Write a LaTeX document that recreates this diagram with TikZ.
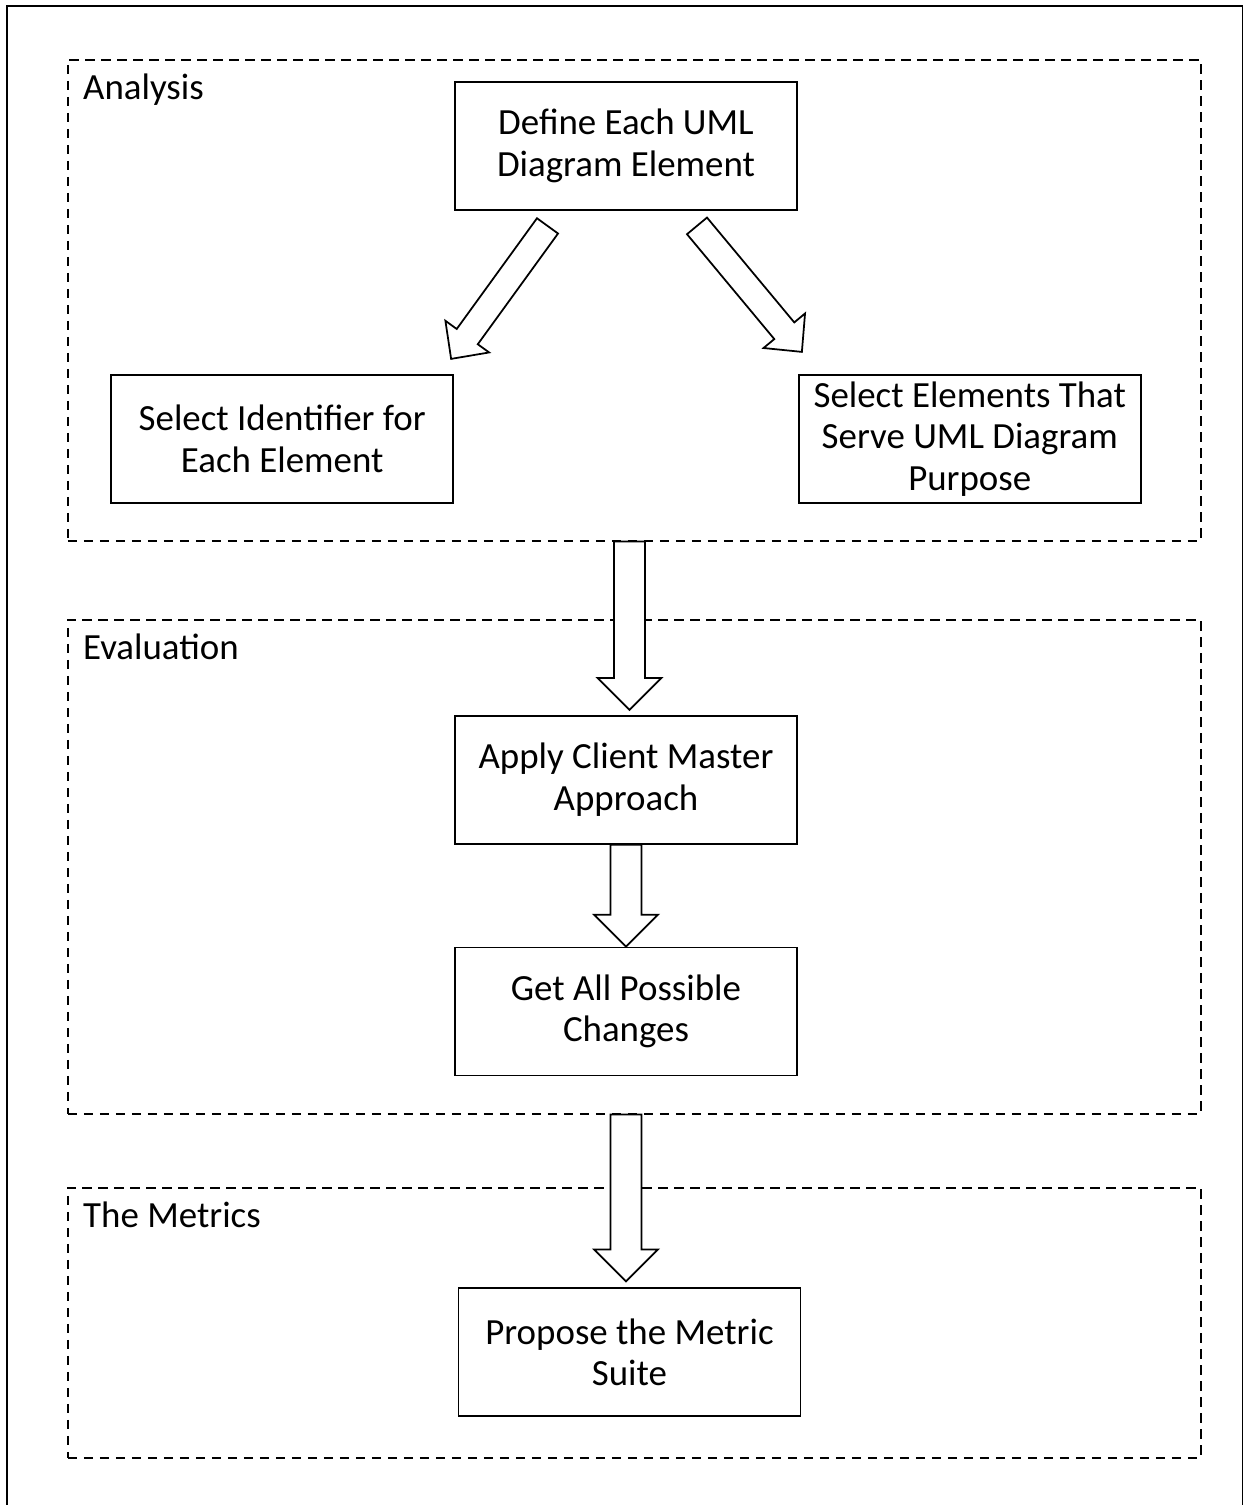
\documentclass[tikz,border=0pt]{standalone}
\usepackage{fontspec}
\setmainfont{Carlito}
\usetikzlibrary{positioning,calc}

\begin{document}
\begin{tikzpicture}[
        stepnode/.style={rectangle, draw=black, line width=1pt, fill=white, minimum width=6.84cm, minimum height=2.56cm, align=center, font=\fontsize{21}{23.6}\selectfont},
        phasebox/.style={rectangle, draw=black, line width=0.9pt, dash pattern=on 0.19cm off 0.13cm, anchor=north west, minimum width=22.66cm},
        phaselabel/.style={anchor=base west, font=\fontsize{21}{24}\selectfont},
        blockarrow/.style n args={3}{draw=black, line width=1pt, fill=white, to path={
            (\tikztostart) coordinate (bstart) (\tikztotarget) coordinate (btip)
            ($(btip)!#3!(bstart)$) coordinate (bhead)
            ($(bstart)!#1!90:(bhead)$) -- ($(bhead)!#1!-90:(bstart)$)
            -- ($(bhead)!#2!-90:(bstart)$) -- (btip)
            -- ($(bhead)!#2!90:(bstart)$) -- ($(bhead)!#1!90:(bstart)$)
            -- ($(bstart)!#1!-90:(bhead)$) -- cycle}},
    ]
    \useasboundingbox (0,0) rectangle (24.9,-30.1);
    \draw[line width=1pt] (0.14,-30.4) -- (0.14,-0.12) -- (24.85,-0.12) -- (24.85,-30.4);

    % phases
    \node[phasebox, minimum height=9.62cm] (analysis)   at (1.34,-1.18)  {};
    \node[phasebox, minimum height=9.88cm] (evaluation) at (1.34,-12.38) {};
    \node[phasebox, minimum height=5.4cm]  (metrics)    at (1.34,-23.74) {};
    \node[phaselabel] (analysislabel)   at ($(analysis.north west)+(0.2,-0.8)$)   {Analysis};
    \node[phaselabel] (evaluationlabel) at ($(evaluation.north west)+(0.2,-0.8)$) {Evaluation};
    \node[phaselabel] (metricslabel)    at ($(metrics.north west)+(0.2,-0.8)$)    {The Metrics};

    % steps
    \node[stepnode] (define) at (12.52,-2.92) {Define Each UML\\Diagram Element};
    \node[stepnode] (identifier) [below left=3.26cm and 0cm of define.south west, anchor=north east] {Select Identifier for\\Each Element};
    \node[stepnode] (purpose) [below right=3.26cm and 0cm of define.south east, anchor=north west] {Select Elements That\\Serve UML Diagram\\Purpose};
    \node[stepnode] (apply) [below=10.08cm of define] {Apply Client Master\\Approach};
    \node[stepnode] (changes) [below=2.04cm of apply] {Get All Possible\\Changes};
    \node[stepnode] (propose) [below=4.22cm of changes, xshift=0.07cm] {Propose the Metric\\Suite};

    % arrows
    \coordinate (lefttail)  at ($(define.south)+(-1.57,-0.3)$);
    \coordinate (lefttip)   at ($(identifier.north east)+(-0.06,0.3)$);
    \coordinate (righttail) at ($(define.south)+(1.42,-0.3)$);
    \coordinate (righttip)  at ($(purpose.north west)+(0.08,0.44)$);
    \draw[blockarrow={0.26cm}{0.54cm}{0.55cm}] (lefttail) to (lefttip);
    \draw[blockarrow={0.26cm}{0.54cm}{0.55cm}] (righttail) to (righttip);
    \draw[blockarrow={0.31cm}{0.64cm}{0.64cm}] ($(analysis.south -| apply.north)+(0.07,0)$) to ($(apply.north)+(0.07,0.1)$);
    \draw[blockarrow={0.31cm}{0.64cm}{0.64cm}] (apply.south) to (changes.north);
    \draw[blockarrow={0.31cm}{0.64cm}{0.64cm}] (evaluation.south -| changes.south) to ($(propose.north)+(-0.07,0.12)$);
\end{tikzpicture}
\end{document}
